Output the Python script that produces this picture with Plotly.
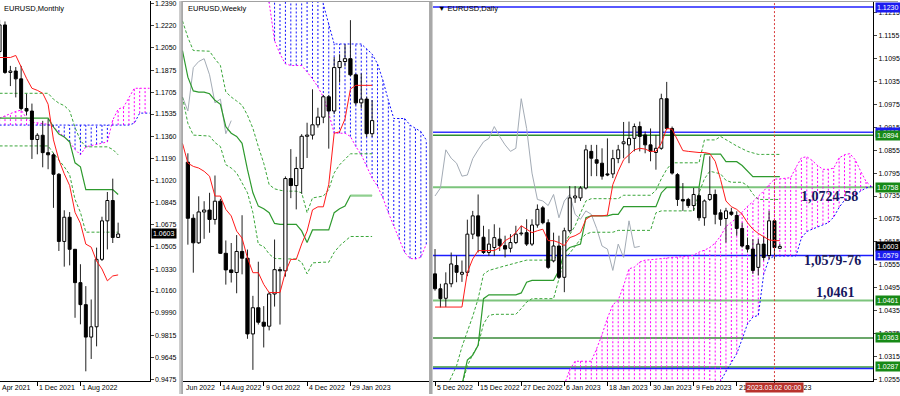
import plotly.graph_objects as go

W, H = 900, 396

# ---------------- MONTHLY (index 0 = Jun 2021 ... 21 = Mar 2023) ----------------
m_idx = list(range(-1, 22))
m_open = [1.2020, 1.2227, 1.1858, 1.1869, 1.1808, 1.1578, 1.1558, 1.1337, 1.1370, 1.1235, 1.1218, 1.1067,
          1.0545, 1.0733, 1.0484, 1.0225, 1.0054, 0.9802, 0.9882, 1.0406, 1.0705, 1.0863, 1.0576]
m_high = [1.2266, 1.2254, 1.1909, 1.1900, 1.1909, 1.1692, 1.1616, 1.1386, 1.1482, 1.1495, 1.1233, 1.1076,
          1.0787, 1.0773, 1.0486, 1.0368, 1.0198, 1.0094, 1.0497, 1.0737, 1.0929, 1.1033, 1.0691]
m_low = [1.1986, 1.1847, 1.1752, 1.1664, 1.1563, 1.1524, 1.1186, 1.1222, 1.1121, 1.1106, 1.0806, 1.0471,
         1.0349, 1.0359, 0.9952, 0.9901, 0.9536, 0.9632, 0.9730, 1.0393, 1.0483, 1.0533, 1.0575]
m_close = [1.2227, 1.1858, 1.1869, 1.1808, 1.1578, 1.1558, 1.1337, 1.1370, 1.1235, 1.1218, 1.1067, 1.0545,
           1.0733, 1.0484, 1.0225, 1.0054, 0.9802, 0.9882, 1.0406, 1.0705, 1.0863, 1.0576, 1.0603]
m_tenkan = [1.1974, 1.1974, 1.1974, 1.1990, 1.1897, 1.1812, 1.1735, 1.1719, 1.1696, 1.1611, 1.1334, 1.1179,
            1.1071, 1.0979, 1.0771, 1.0686, 1.0524, 1.0501, 1.0393, 1.0331, 1.0239, 1.0277, 1.0285]
m_kijun = [1.1503] * 10 + [1.1434, 1.1380, 1.1357, 1.1318, 1.1156, 1.1125, 1.0948, 1.0948, 1.0948,
                           1.0948, 1.0948, 1.0948, 1.0910]
m_dash1 = [1.1696] * 10 + [1.1650, 1.1619, 1.1600, 1.1560, 1.1430, 1.1330, 1.1280, 1.1280, 1.1280,
                           1.1280, 1.1280, 1.1260, 1.1218]
m_dash2 = [1.1287] * 10 + [1.1230, 1.1179, 1.1125, 1.1064, 1.0871, 1.0771, 1.0617, 1.0617, 1.0617,
                           1.0617, 1.0617, 1.0617, 1.0617]
m_cloud_idx = list(range(-1, 28))
m_spanA = [1.1503, 1.1520, 1.1540, 1.1555, 1.1565, 1.1503, 1.1472, 1.1465, 1.1460, 1.1455, 1.1434, 1.1395,
           1.1360, 1.1318, 1.1260, 1.1218, 1.1280, 1.1290, 1.1300, 1.1310, 1.1318, 1.1488, 1.1573, 1.1588,
           1.1665, 1.1735, 1.1735, 1.1735, 1.1735]
m_spanB = [1.1449] * 25 + [1.1464, 1.1542, 1.1542, 1.1542]
m_ticks = [1.2390, 1.2220, 1.2050, 1.1875, 1.1705, 1.1535, 1.1360, 1.1190, 1.1020, 1.0845, 1.0675, 1.0505,
           1.0330, 1.0160, 0.9990, 0.9815, 0.9645, 0.9475]
m_date_idx = [-0.9, 6, 14]
m_date_txt = ["Apr 2021", "1 Dec 2021", "1 Aug 2022"]

# ---------------- WEEKLY (index 0 = 3 Jul 2022 ... 34 = 26 Feb 2023) ----------------
w_idx = list(range(0, 35))
w_open = [1.0425, 1.0185, 1.0080, 1.0212, 1.0220, 1.0180, 1.0258, 1.0035, 0.9964, 0.9953, 1.0043, 1.0014,
          0.9690, 0.9802, 0.9740, 0.9723, 0.9861, 0.9965, 0.9960, 1.0355, 1.0325, 1.0398, 1.0536, 1.0541,
          1.0585, 1.0618, 1.0705, 1.0644, 1.0830, 1.0856, 1.0868, 1.0799, 1.0679, 1.0695, 1.0547]
w_high = [1.0463, 1.0202, 1.0279, 1.0258, 1.0294, 1.0368, 1.0268, 1.0090, 1.0079, 1.0113, 1.0198, 1.0051,
          0.9853, 0.9999, 0.9809, 0.9870, 1.0094, 0.9977, 1.0364, 1.0481, 1.0448, 1.0545, 1.0594, 1.0737,
          1.0658, 1.0713, 1.0713, 1.0875, 1.0887, 1.0929, 1.1033, 1.0804, 1.0805, 1.0705, 1.0691]
w_low = [1.0072, 0.9952, 1.0075, 1.0097, 1.0123, 1.0158, 1.0032, 0.9901, 0.9910, 0.9864, 0.9945, 0.9669,
         0.9536, 0.9730, 0.9632, 0.9705, 0.9807, 0.9730, 0.9935, 1.0271, 1.0223, 1.0290, 1.0443, 1.0522,
         1.0573, 1.0592, 1.0483, 1.0631, 1.0766, 1.0835, 1.0793, 1.0669, 1.0655, 1.0533, 1.0533]
w_close = [1.0185, 1.0080, 1.0212, 1.0220, 1.0180, 1.0258, 1.0035, 0.9964, 0.9953, 1.0043, 1.0014, 0.9690,
           0.9802, 0.9740, 0.9723, 0.9861, 0.9965, 0.9960, 1.0355, 1.0325, 1.0398, 1.0536, 1.0541, 1.0585,
           1.0618, 1.0705, 1.0644, 1.0830, 1.0856, 1.0868, 1.0799, 1.0679, 1.0695, 1.0547, 1.0603]
w_line_idx = list(range(-1, 35))
w_tenkan = [1.0506, 1.0421, 1.0407, 1.0400, 1.0386, 1.0365, 1.0280, 1.0280, 1.0223, 1.0195, 1.0130, 1.0100,
            1.0015, 0.9952, 0.9952, 0.9902, 0.9867, 0.9867, 0.9867, 0.9955, 1.0009, 1.0009, 1.0075, 1.0130,
            1.0221, 1.0234, 1.0234, 1.0330, 1.0549, 1.0555, 1.0610, 1.0738, 1.0754, 1.0754, 1.0754, 1.0754]
w_kijun = [1.0903, 1.0789, 1.0730, 1.0725, 1.0725, 1.0718, 1.0690, 1.0673, 1.0577, 1.0549, 1.0535, 1.0506,
           1.0393, 1.0294, 1.0237, 1.0226, 1.0209, 1.0163, 1.0159, 1.0159, 1.0159, 1.0159, 1.0131, 1.0081,
           1.0135, 1.0135, 1.0135, 1.0135, 1.0209, 1.0226, 1.0237, 1.0282, 1.0282, 1.0282, 1.0282, 1.0282]
w_dash1 = [1.1030, 1.0959, 1.0903, 1.0903, 1.0903, 1.0900, 1.0867, 1.0839, 1.0726, 1.0704, 1.0687, 1.0669,
           1.0626, 1.0570, 1.0492, 1.0421, 1.0329, 1.0311, 1.0305, 1.0301, 1.0301, 1.0301, 1.0294, 1.0209,
           1.0272, 1.0277, 1.0280, 1.0308, 1.0379, 1.0414, 1.0438, 1.0461, 1.0461, 1.0461, 1.0461, 1.0461]
w_dash2 = [1.0704, 1.0591, 1.0541, 1.0540, 1.0539, 1.0537, 1.0509, 1.0492, 1.0414, 1.0400, 1.0379, 1.0336,
           1.0294, 1.0209, 1.0074, 1.0064, 1.0032, 1.0013, 1.0011, 1.0011, 1.0011, 1.0011, 0.9997, 0.9947,
           0.9994, 0.9997, 0.9997, 0.9997, 1.0039, 1.0067, 1.0088, 1.0107, 1.0107, 1.0107, 1.0107, 1.0107]
w_cloud_idx = list(range(14, 45))
w_spanA = [1.1158, 1.1108, 1.0945, 1.0888, 1.0846, 1.0839, 1.0839, 1.0839, 1.0811, 1.0782, 1.0747, 1.0704,
           1.0634, 1.0549, 1.0549, 1.0549, 1.0535, 1.0492, 1.0457, 1.0407, 1.0357, 1.0322, 1.0272, 1.0209,
           1.0152, 1.0096, 1.0039, 1.0013, 1.0011, 1.0018, 1.0074]
w_spanB = [1.1250] * 11 + [1.1101, 1.1016, 1.0931, 1.0931, 1.0931, 1.0931, 1.0931, 1.0931, 1.0910, 1.0888,
                           1.0846, 1.0775, 1.0690, 1.0612, 1.0612, 1.0612, 1.0584, 1.0570, 1.0556, 1.0520]
w_date_idx = [-0.8, 6, 14, 22, 30]
w_date_txt = ["Jun 2022", "14 Aug 2022", "9 Oct 2022", "4 Dec 2022", "29 Jan 2023"]

# ---------------- DAILY (index 0 = 5 Dec 2022 ... 63 = 2 Mar 2023) ----------------
d_idx = list(range(0, 65))
d_open = [1.0531, 1.0492, 1.0467, 1.0505, 1.0553, 1.0530, 1.0535, 1.0635, 1.0683, 1.0627,
          1.0587, 1.0600, 1.0622, 1.0605, 1.0598, 1.0613, 1.0636, 1.0639, 1.0609, 1.0659,
          1.0704, 1.0665, 1.0565, 1.0604, 1.0522, 1.0644, 1.0730, 1.0730, 1.0756, 1.0852,
          1.0830, 1.0821, 1.0793, 1.0793, 1.0833, 1.0872, 1.0869, 1.0886, 1.0917, 1.0895,
          1.0869, 1.0849, 1.0860, 1.0990, 1.0912, 1.0791, 1.0726, 1.0726, 1.0710, 1.0736,
          1.0678, 1.0726, 1.0739, 1.0691, 1.0676, 1.0693, 1.0684, 1.0650, 1.0605, 1.0596,
          1.0548, 1.0609, 1.0579, 1.0670, 1.0598]
d_high = [1.0596, 1.0505, 1.0535, 1.0587, 1.0579, 1.0566, 1.0673, 1.0696, 1.0739, 1.0657,
          1.0648, 1.0661, 1.0652, 1.0631, 1.0635, 1.0657, 1.0657, 1.0674, 1.0674, 1.0713,
          1.0709, 1.0674, 1.0639, 1.0631, 1.0652, 1.0761, 1.0761, 1.0761, 1.0869, 1.0869,
          1.0869, 1.0860, 1.0886, 1.0856, 1.0869, 1.0929, 1.0930, 1.0925, 1.0930, 1.0904,
          1.0912, 1.0895, 1.1003, 1.1034, 1.0917, 1.0795, 1.0769, 1.0730, 1.0756, 1.0756,
          1.0726, 1.0839, 1.0752, 1.0700, 1.0704, 1.0704, 1.0695, 1.0665, 1.0626, 1.0622,
          1.0622, 1.0631, 1.0696, 1.0674, 1.0609]
d_low = [1.0487, 1.0443, 1.0444, 1.0496, 1.0509, 1.0510, 1.0525, 1.0622, 1.0587, 1.0583,
         1.0578, 1.0578, 1.0591, 1.0574, 1.0587, 1.0609, 1.0631, 1.0604, 1.0604, 1.0652,
         1.0661, 1.0544, 1.0561, 1.0518, 1.0483, 1.0639, 1.0717, 1.0722, 1.0752, 1.0787,
         1.0787, 1.0778, 1.0787, 1.0782, 1.0821, 1.0834, 1.0821, 1.0852, 1.0852, 1.0847,
         1.0826, 1.0804, 1.0856, 1.0908, 1.0791, 1.0709, 1.0696, 1.0704, 1.0696, 1.0670,
         1.0657, 1.0722, 1.0661, 1.0657, 1.0613, 1.0683, 1.0631, 1.0600, 1.0587, 1.0531,
         1.0527, 1.0566, 1.0570, 1.0570, 1.0596]
d_close = [1.0492, 1.0466, 1.0505, 1.0557, 1.0535, 1.0535, 1.0635, 1.0683, 1.0630, 1.0587,
           1.0609, 1.0626, 1.0605, 1.0596, 1.0613, 1.0635, 1.0638, 1.0609, 1.0659, 1.0700,
           1.0665, 1.0548, 1.0604, 1.0522, 1.0644, 1.0730, 1.0735, 1.0756, 1.0856, 1.0834,
           1.0821, 1.0787, 1.0790, 1.0833, 1.0856, 1.0877, 1.0886, 1.0917, 1.0891, 1.0869,
           1.0852, 1.0860, 1.0990, 1.0912, 1.0795, 1.0726, 1.0722, 1.0710, 1.0739, 1.0678,
           1.0722, 1.0739, 1.0687, 1.0674, 1.0696, 1.0687, 1.0650, 1.0604, 1.0596, 1.0540,
           1.0609, 1.0574, 1.0670, 1.0600, 1.0603]
d_tenkan = [1.0444] * 6 + [1.0535, 1.0570, 1.0592, 1.0592, 1.0592, 1.0592, 1.0600, 1.0618, 1.0626, 1.0639,
                           1.0657, 1.0648, 1.0639, 1.0644, 1.0648, 1.0618, 1.0618, 1.0613, 1.0605, 1.0626,
                           1.0631, 1.0639, 1.0674, 1.0683, 1.0683, 1.0683, 1.0685, 1.0765, 1.0800, 1.0830,
                           1.0843, 1.0856, 1.0860, 1.0858, 1.0852, 1.0852, 1.0873, 1.0912, 1.0910, 1.0882,
                           1.0854, 1.0852, 1.0850, 1.0849, 1.0849, 1.0846, 1.0826, 1.0778, 1.0722, 1.0707,
                           1.0700, 1.0687, 1.0665, 1.0648, 1.0637, 1.0629, 1.0620, 1.0618, 1.0618]
d_kijun = ([1.0180] * 5 + [1.0240, 1.0305, 1.0318, 1.0344, 1.0466] + [1.0476] * 6 + [1.0481, 1.0509]
           + [1.0514] * 5 + [1.0540, 1.0587, 1.0600, 1.0605, 1.0609, 1.0678] + [1.0683] * 4 + [1.0687] * 2
           + [1.0707] * 7 + [1.0743] + [1.0758] * 7 + [1.0845] * 4 + [1.0825] * 3 + [1.0815, 1.0800]
           + [1.0786] * 6)
d_dashA = [1.0200, 1.0215, 1.0230, 1.0260, 1.0290, 1.0340, 1.0380, 1.0420, 1.0466, 1.0530,
           1.0540, 1.0545, 1.0548, 1.0552, 1.0556, 1.0560, 1.0563, 1.0567, 1.0567, 1.0567,
           1.0567, 1.0567, 1.0567, 1.0587, 1.0610, 1.0635, 1.0657, 1.0690, 1.0722, 1.0728,
           1.0728, 1.0728, 1.0728, 1.0728, 1.0728, 1.0737, 1.0737, 1.0737, 1.0737, 1.0737,
           1.0737, 1.0750, 1.0780, 1.0805, 1.0822, 1.0822, 1.0822, 1.0822, 1.0822, 1.0822,
           1.0882, 1.0882, 1.0882, 1.0891, 1.0882, 1.0873, 1.0866, 1.0859, 1.0852, 1.0848,
           1.0844, 1.0844, 1.0844, 1.0844, 1.0844]
d_dashB = ([1.0200] * 5 + [1.0240, 1.0290, 1.0320, 1.0344, 1.0400, 1.0422] + [1.0425] * 5 + [1.0440, 1.0457]
           + [1.0466] * 5 + [1.0518, 1.0570, 1.0585, 1.0604, 1.0622, 1.0635] + [1.0640] * 5 + [1.0645] * 7
           + [1.0691] + [1.0696] * 7 + [1.0743, 1.0780, 1.0800, 1.0797, 1.0793, 1.0776, 1.0771, 1.0771,
                                        1.0771, 1.0762, 1.0740] + [1.0726] * 5)
d_cloud_idx = list(range(24, 82))
d_spanA = [1.0240, 1.0280, 1.0302, 1.0302, 1.0302, 1.0302, 1.0335, 1.0372, 1.0415, 1.0450, 1.0462, 1.0500,
           1.0544, 1.0549, 1.0562, 1.0567, 1.0568, 1.0570, 1.0571, 1.0573, 1.0574, 1.0575, 1.0576, 1.0577,
           1.0580, 1.0588, 1.0593, 1.0600, 1.0612, 1.0630, 1.0655, 1.0665, 1.0677, 1.0693, 1.0708, 1.0720,
           1.0734, 1.0748, 1.0765, 1.0779, 1.0780, 1.0781, 1.0783, 1.0810, 1.0835, 1.0838, 1.0828, 1.0815,
           1.0805, 1.0805, 1.0808, 1.0835, 1.0843, 1.0846, 1.0830, 1.0800, 1.0773, 1.0760]
d_spanB = [1.0150] * 27 + [1.0190, 1.0220, 1.0250, 1.0275, 1.0300, 1.0322, 1.0360, 1.0400, 1.0418, 1.0422,
                           1.0530, 1.0570, 1.0578, 1.0578, 1.0578, 1.0578, 1.0578, 1.0625, 1.0642, 1.0648,
                           1.0654, 1.0660, 1.0665, 1.0680, 1.0705, 1.0724, 1.0730, 1.0738, 1.0748, 1.0756,
                           1.0760]
d_ticks = [1.1215, 1.1155, 1.1095, 1.1035, 1.0975, 1.0915, 1.0855, 1.0795, 1.0735, 1.0675, 1.0615, 1.0555,
           1.0495, 1.0435, 1.0375, 1.0315, 1.0255]
d_date_idx = [0, 8, 16, 24, 32, 40, 48, 56, 63]
d_date_txt = ["5 Dec 2022", "15 Dec 2022", "27 Dec 2022", "6 Jan 2023", "18 Jan 2023", "30 Jan 2023",
              "9 Feb 2023", "21 Feb 2023", "2 Mar 2023"]
# horizontal levels
lvl_values = [1.1230, 1.0902, 1.0894, 1.0758, 1.0579, 1.0461, 1.0363, 1.0287, 1.0283]
lvl_colors = ["#2020ff", "#3535ff", "#2f8f2f", "#7cc47c", "#1c1cff", "#7cc47c", "#3a8a3a", "#3a9a3a", "#2020ff"]
lvl_widths = [1.5, 1.5, 1.5, 2, 1.5, 2, 1.5, 1.5, 1.5]
box_values = [1.1230, 1.0902, 1.0894, 1.0758, 1.0603, 1.0579, 1.0461, 1.0363, 1.0287]
box_colors = ["#1c1cf0", "#1c1cf0", "#178a17", "#178a17", "#000000", "#1c1cf0", "#178a17", "#178a17", "#178a17"]
zone_text = ["1,0724-58", "1,0579-76", "1,0461"]
zone_x = [73.3, 73.7, 74.3]
zone_y = [1.0734, 1.0565, 1.0481]
last_price = 1.0603
cursor_idx = 63
cursor_text = "2023.03.02 00:00"

# ---------------- figure ----------------
fig = go.Figure()
RED, GREEN, DGREEN, GREY = "#ff1a1a", "#2e9a2e", "#3aa63a", "#a3abb5"
FS = 7


def line(x, y, color, width=1, dash="solid", xa="x", ya="y"):
    fig.add_trace(go.Scatter(x=x, y=y, mode="lines", line=dict(color=color, width=width, dash=dash),
                             xaxis=xa, yaxis=ya, hoverinfo="skip", showlegend=False))


def cloud(idx, a, b, xa, ya):
    mx, my, bx, by = [], [], [], []
    for k, va, vb in zip(idx, a, b):
        lo, hi = min(va, vb), max(va, vb)
        if va >= vb:
            mx += [k, k, None]; my += [lo, hi, None]
        else:
            bx += [k, k, None]; by += [lo, hi, None]
    line(mx, my, "#ff00ff", 1, "2px,2px", xa, ya)
    line(bx, by, "#1010ff", 1, "2px,2px", xa, ya)
    line(idx, a, "#ff00ff", 1, "2px,2px", xa, ya)
    line(idx, b, "#1010ff", 1, "2px,2px", xa, ya)


def candles(idx, o, h, l, c, bw, xa, ya):
    ux, uy, dx, dy, wx, wy = [], [], [], [], [], []
    for k, oo, hh, ll, cc in zip(idx, o, h, l, c):
        top, bot = max(oo, cc), min(oo, cc)
        xs = [k - bw / 2, k + bw / 2, k + bw / 2, k - bw / 2, k - bw / 2, None]
        ys = [bot, bot, top, top, bot, None]
        if cc >= oo:
            ux += xs; uy += ys
        else:
            dx += xs; dy += ys
        wx += [k, k, None, k, k, None]
        wy += [ll, bot, None, top, hh, None]
    fig.add_trace(go.Scatter(x=wx, y=wy, mode="lines", line=dict(color="#202020", width=1),
                             xaxis=xa, yaxis=ya, hoverinfo="skip", showlegend=False))
    fig.add_trace(go.Scatter(x=ux, y=uy, mode="lines", fill="toself", fillcolor="white",
                             line=dict(color="black", width=1), xaxis=xa, yaxis=ya,
                             hoverinfo="skip", showlegend=False))
    fig.add_trace(go.Scatter(x=dx, y=dy, mode="lines", fill="toself", fillcolor="black",
                             line=dict(color="black", width=1), xaxis=xa, yaxis=ya,
                             hoverinfo="skip", showlegend=False))


# monthly
cloud(m_cloud_idx, m_spanA, m_spanB, "x", "y")
line(m_idx, m_dash1, DGREEN, 1, "3px,2px", "x", "y")
line(m_idx, m_dash2, DGREEN, 1, "3px,2px", "x", "y")
line(m_idx, m_kijun, GREEN, 1.2, "solid", "x", "y")
candles(m_idx, m_open, m_high, m_low, m_close, 0.55, "x", "y")
line(m_idx, m_tenkan, RED, 1, "solid", "x", "y")

# weekly
cloud(w_cloud_idx, w_spanA, w_spanB, "x2", "y2")
line(w_line_idx[:10], w_close[25:], GREY, 1, "solid", "x2", "y2")
line(w_line_idx, w_dash1, DGREEN, 1, "3px,2px", "x2", "y2")
line(w_line_idx, w_dash2, DGREEN, 1, "3px,2px", "x2", "y2")
line(w_line_idx, w_kijun, GREEN, 1.2, "solid", "x2", "y2")
line(w_line_idx[-5:], w_kijun[-5:], "#8fd08f", 2, "solid", "x2", "y2")
candles(w_idx, w_open, w_high, w_low, w_close, 0.6, "x2", "y2")
line(w_line_idx, w_tenkan, RED, 1, "solid", "x2", "y2")

# daily
cloud(d_cloud_idx, d_spanA, d_spanB, "x3", "y3")
line(d_idx[:39], d_close[26:], GREY, 1, "solid", "x3", "y3")
line(d_idx, d_dashA, DGREEN, 1, "3px,2px", "x3", "y3")
line(d_idx, d_dashB, DGREEN, 1, "3px,2px", "x3", "y3")
line(d_idx, d_kijun, GREEN, 1.2, "solid", "x3", "y3")
candles(d_idx, d_open, d_high, d_low, d_close, 0.55, "x3", "y3")
line(d_idx, d_tenkan, RED, 1, "solid", "x3", "y3")

# ---------------- axes ----------------
ydom = [13 / H, 1]
axfont = dict(family="Liberation Sans", size=FS, color="black")
common_x = dict(showgrid=False, zeroline=False, showline=True, linecolor="black", linewidth=1,
                ticks="outside", ticklen=4, tickcolor="black", showticklabels=False)
fig.update_layout(
    width=W, height=H, margin=dict(l=0, r=0, t=0, b=0), autosize=False,
    paper_bgcolor="white", plot_bgcolor="white", showlegend=False,
    font=axfont,
    xaxis=dict(domain=[0, 150 / W], range=[-0.926, 26.85], anchor="y", tickvals=m_date_idx[1:], **common_x),
    yaxis=dict(domain=ydom, range=[0.9460, 1.2413], anchor="x", side="right", showgrid=False, zeroline=False,
               showline=True, linecolor="black", ticks="outside", ticklen=3, tickvals=m_ticks,
               ticktext=["%.4f" % v for v in m_ticks], tickfont=axfont, ticklabeloverflow="allow"),
    xaxis2=dict(domain=[183 / W, 430 / W], range=[-0.976, 44.51], anchor="y2", tickvals=w_date_idx[1:],
                **common_x),
    yaxis2=dict(domain=ydom, range=[0.9488, 1.1115], anchor="x2", visible=False),
    xaxis3=dict(domain=[434 / W, 875 / W], range=[-0.37, 81.3], anchor="y3", tickvals=d_date_idx, **common_x),
    yaxis3=dict(domain=ydom, range=[1.0250, 1.1246], anchor="x3", side="right", showgrid=False, zeroline=False,
                showline=True, linecolor="black", ticks="outside", ticklen=3, tickvals=d_ticks,
                ticktext=["%.4f" % v for v in d_ticks], tickfont=axfont, ticklabeloverflow="allow"),
)

shapes = []
for v, col, wd in zip(lvl_values, lvl_colors, lvl_widths):
    shapes.append(dict(type="line", xref="x3 domain", yref="y3", x0=0, x1=1, y0=v, y1=v,
                       line=dict(color=col, width=wd), layer="below"))
shapes.append(dict(type="line", xref="x3", yref="paper", x0=cursor_idx, x1=cursor_idx, y0=13 / H, y1=1,
                   line=dict(color="#d83a3a", width=1, dash="2px,2px")))
shapes += [
    dict(type="rect", xref="paper", yref="paper", x0=179.5 / W, x1=182 / W, y0=0, y1=1,
         fillcolor="#c8c8c8", line=dict(width=0)),
    dict(type="line", xref="paper", yref="paper", x0=182.5 / W, x1=182.5 / W, y0=0, y1=1,
         line=dict(color="#707070", width=1)),
    dict(type="rect", xref="paper", yref="paper", x0=430 / W, x1=433.5 / W, y0=0, y1=1,
         fillcolor="#a8a8a8", line=dict(width=0)),
    dict(type="line", xref="paper", yref="paper", x0=183 / W, x1=1, y0=1 - 0.5 / H, y1=1 - 0.5 / H,
         line=dict(color="#a0a0a0", width=1)),
]
fig.update_layout(shapes=shapes)

ann = []
bottom = 12 / H
for k, t in zip(m_date_idx, m_date_txt):
    ann.append(dict(x=k, xref="x", y=bottom, yref="paper", text=t, showarrow=False, xanchor="left",
                    yanchor="top", xshift=0, font=dict(size=FS)))
for k, t in zip(w_date_idx, w_date_txt):
    ann.append(dict(x=k, xref="x2", y=bottom, yref="paper", text=t, showarrow=False, xanchor="left",
                    yanchor="top", xshift=0, font=dict(size=FS)))
for k, t in zip(d_date_idx, d_date_txt):
    ann.append(dict(x=k, xref="x3", y=bottom, yref="paper", text=t, showarrow=False, xanchor="left",
                    yanchor="top", xshift=0, font=dict(size=FS)))
ann.append(dict(x=cursor_idx, xref="x3", y=bottom, yref="paper", text=cursor_text, showarrow=False,
                xanchor="center", yanchor="top", bgcolor="#b8322c", font=dict(size=FS, color="white"),
                borderpad=1))
ann += [
    dict(x=2 / W, y=1 - 1 / H, xref="paper", yref="paper", text="EURUSD,Monthly", showarrow=False,
         xanchor="left", yanchor="top", font=dict(size=7.5)),
    dict(x=186 / W, y=1 - 1 / H, xref="paper", yref="paper", text="EURUSD,Weekly", showarrow=False,
         xanchor="left", yanchor="top", font=dict(size=7.5)),
    dict(x=437 / W, y=1 - 1 / H, xref="paper", yref="paper", text="\u25BC EURUSD,Daily", showarrow=False,
         xanchor="left", yanchor="top", font=dict(size=7.5)),
]
for v, col in zip(box_values, box_colors):
    ann.append(dict(x=877 / W, xref="paper", y=v, yref="y3", text="%.4f" % v, showarrow=False,
                    xanchor="left", yanchor="middle", bgcolor=col, font=dict(size=FS, color="white"),
                    borderpad=1))
ann.append(dict(x=151.5 / W, xref="paper", y=last_price, yref="y", text="%.4f" % last_price, showarrow=False,
                xanchor="left", yanchor="middle", bgcolor="black", font=dict(size=FS, color="white"),
                borderpad=1))
for t, xx, yy in zip(zone_text, zone_x, zone_y):
    ann.append(dict(x=xx, xref="x3", y=yy, yref="y3", text="<b>%s</b>" % t, showarrow=False,
                    font=dict(family="Liberation Serif", size=14, color="#16165e")))
fig.update_layout(annotations=ann)

fig.write_html("out.html")
